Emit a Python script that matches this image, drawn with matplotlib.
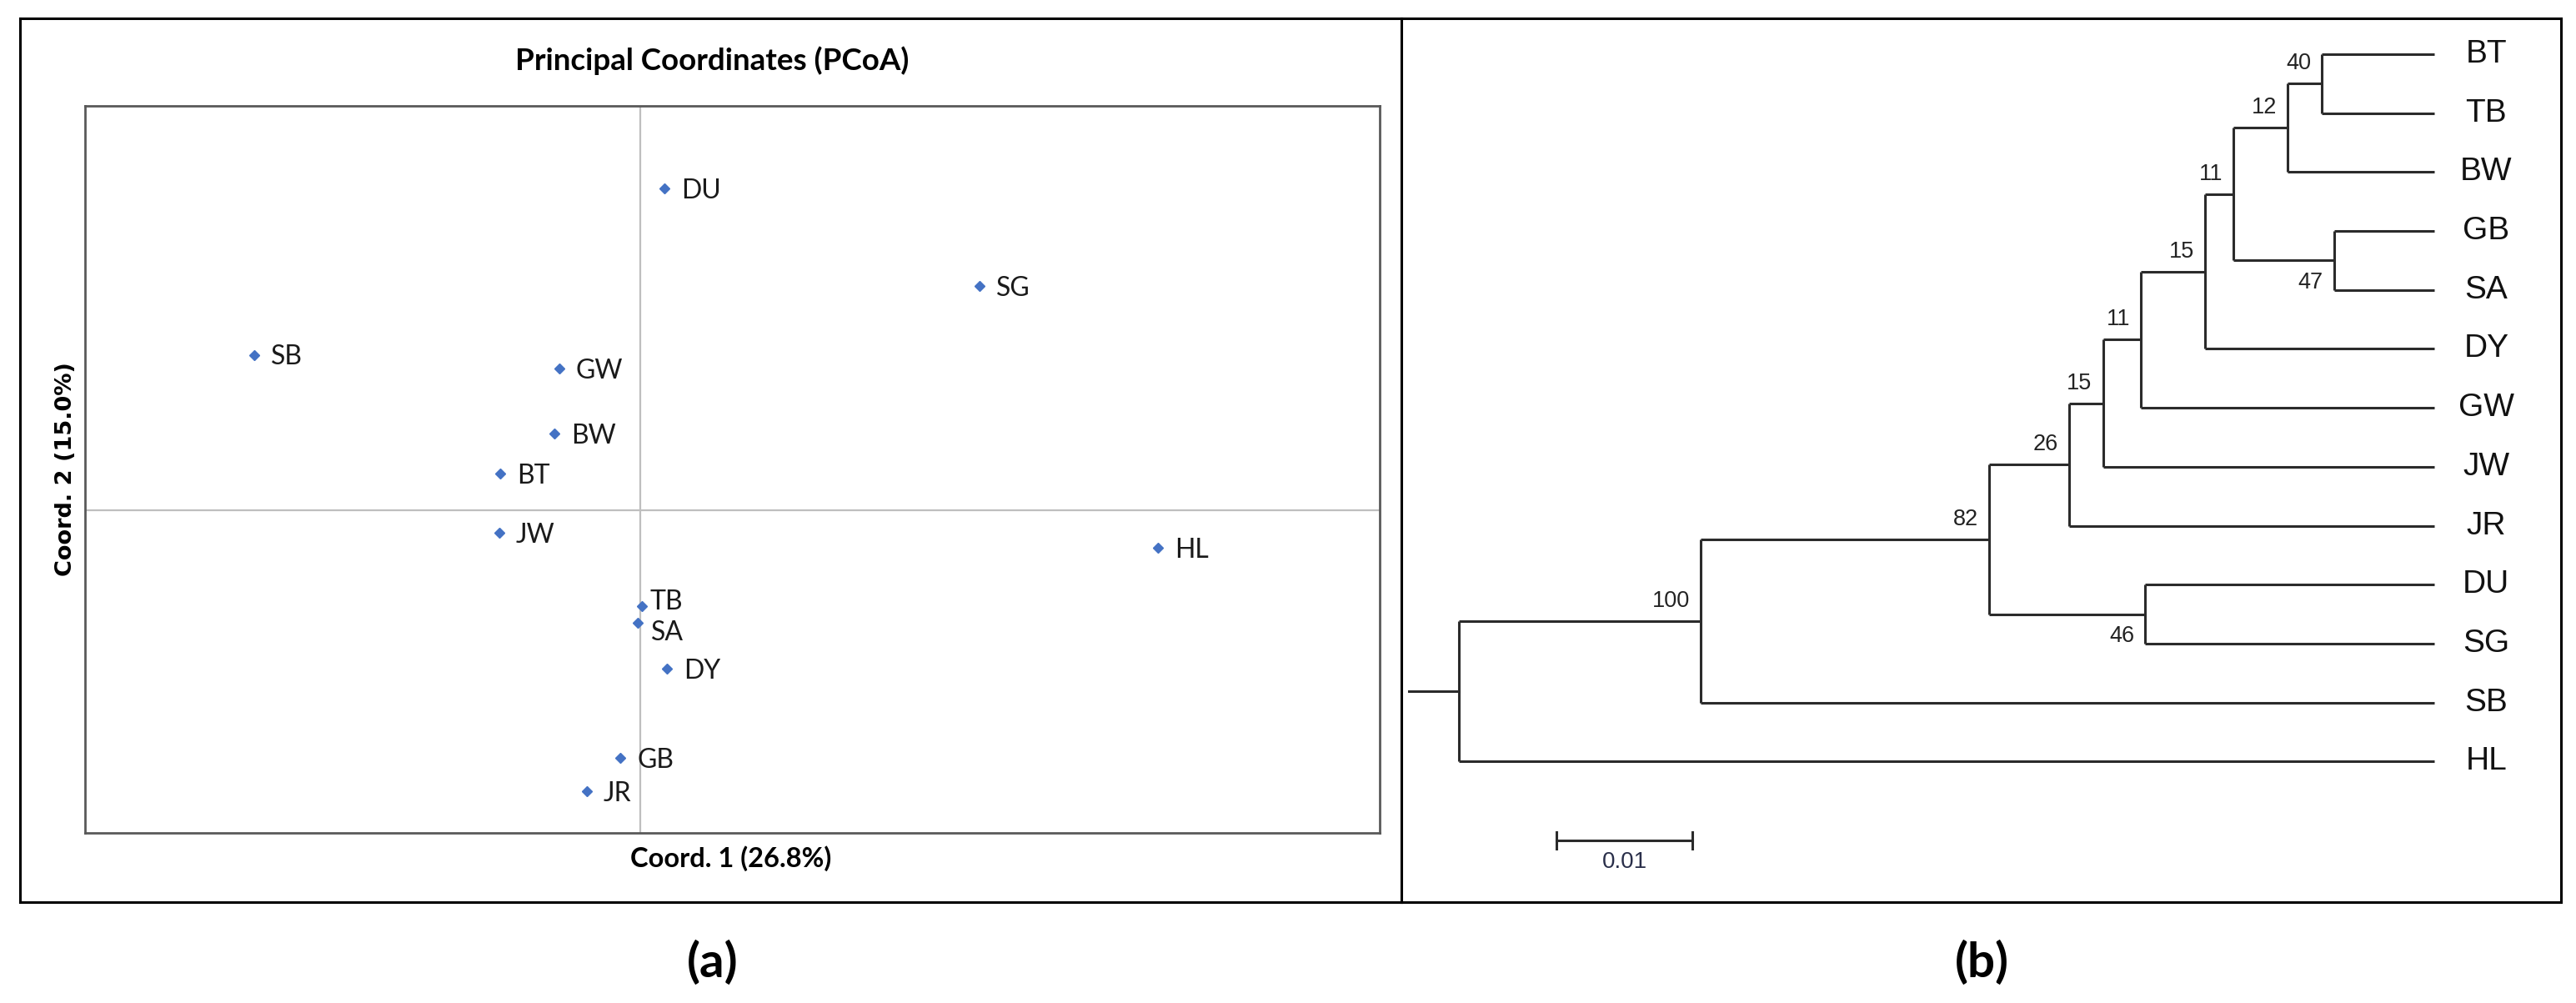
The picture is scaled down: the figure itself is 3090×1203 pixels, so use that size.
import matplotlib
matplotlib.use("agg")
import matplotlib.pyplot as plt

# ---- PCoA data (a) ----
pops = ['DU', 'SG', 'SB', 'GW', 'BW', 'BT', 'JW', 'HL', 'TB', 'SA', 'DY', 'GB', 'JR']
coord1 = [0.019, 0.271, -0.309, -0.065, -0.069, -0.112, -0.113, 0.414, 0.001, -0.002, 0.021, -0.016, -0.043]
coord2 = [0.257, 0.179, 0.124, 0.113, 0.061, 0.029, -0.018, -0.030, -0.077, -0.090, -0.127, -0.198, -0.225]

# ---- UPGMA tree data (b) ----
leaves = ['BT', 'TB', 'BW', 'GB', 'SA', 'DY', 'GW', 'JW', 'JR', 'DU', 'SG', 'SB', 'HL']
node_names = ['n40', 'n47', 'n12', 'n11a', 'n15a', 'n11b', 'n15b', 'n26', 'n46', 'n82', 'n100', 'root']
node_children = [('BT', 'TB'), ('GB', 'SA'), ('n40', 'BW'), ('n12', 'n47'), ('n11a', 'DY'),
                 ('n15a', 'GW'), ('n11b', 'JW'), ('n15b', 'JR'), ('DU', 'SG'), ('n26', 'n46'),
                 ('n82', 'SB'), ('n100', 'HL')]
node_heights = [0.0083, 0.0074, 0.0108, 0.0148, 0.0169, 0.0216, 0.0244, 0.0269, 0.0213, 0.0328, 0.0540, 0.0718]
bootstrap = [40, 47, 12, 11, 15, 11, 15, 26, 46, 82, 100, None]
scale_len = 0.01

W, H = 3090, 1203
def rect(x0, y0, x1, y1):
    return [x0 / W, 1 - y1 / H, (x1 - x0) / W, (y1 - y0) / H]

fig = plt.figure(figsize=(W / 100, H / 100), dpi=100)
fig.patch.set_facecolor('white')

# outer frame of panel (a)
frame = fig.add_axes(rect(24, 22, 1681, 1082))
frame.set_xticks([]); frame.set_yticks([])
frame.patch.set_alpha(0)
for s in frame.spines.values():
    s.set_linewidth(2.2); s.set_color('black')

# PCoA plot
ax = fig.add_axes(rect(102, 127, 1655, 999))
ax.set_xlim(-0.444, 0.591)
ax.set_ylim(-0.258, 0.323)
ax.set_xticks([]); ax.set_yticks([])
for s in ax.spines.values():
    s.set_linewidth(2.0); s.set_color('#595959')
ax.axhline(0, color='#bfbfbf', lw=1.6, zorder=1)
ax.axvline(0, color='#bfbfbf', lw=1.6, zorder=1)
ax.plot(coord1, coord2, 'D', color='#4472C4', markersize=6, zorder=3)

nudge = {'TB': (7, 4), 'SA': (11.5, -8.5)}
for name, x, y in zip(pops, coord1, coord2):
    dx, dy = nudge.get(name, (14.5, -2))
    ax.annotate(name, (x, y), xytext=(dx, dy), textcoords='offset points',
                ha='left', va='center', fontsize=23, family='Lato', color='#1a1a1a')

fig.text(854 / W, 1 - 73 / H, 'Principal Coordinates (PCoA)', ha='center', va='center',
         fontsize=26.5, fontweight='bold', family='Lato')
fig.text(877 / W, 1 - 1030 / H, 'Coord. 1 (26.8%)', ha='center', va='center',
         fontsize=23.5, fontweight='bold', family='Lato')
fig.text(79 / W, 1 - 563 / H, 'Coord. 2 (15.0%)', ha='center', va='center', rotation=90,
         fontsize=19.5, fontweight='bold', family='DejaVu Sans')

# ---- tree panel ----
tx = fig.add_axes(rect(1681, 22, 3072, 1082))
tx.set_xlim(-69 / 16300, 1322 / 16300)
tx.set_ylim(14.385, -0.608)
tx.set_xticks([]); tx.set_yticks([])
for s in tx.spines.values():
    s.set_linewidth(2.2); s.set_color('black')

root_h = node_heights[-1]
xpos, ypos = {}, {}
for i, leaf in enumerate(leaves):
    xpos[leaf] = root_h
    ypos[leaf] = i
for name, kids, h in zip(node_names, node_children, node_heights):
    xpos[name] = root_h - h
    ypos[name] = (ypos[kids[0]] + ypos[kids[1]]) / 2

lc = '#2b2b2b'
lw = 2.2
parent_of = {}
for name, kids in zip(node_names, node_children):
    a, b = kids
    tx.plot([xpos[name], xpos[name]], [ypos[a], ypos[b]], color=lc, lw=lw, solid_capstyle='butt')
    for k in kids:
        tx.plot([xpos[name], xpos[k]], [ypos[k], ypos[k]], color=lc, lw=lw, solid_capstyle='butt')
        parent_of[k] = (name, k == a)
# root stub
tx.plot([-0.0037, 0], [ypos['root'], ypos['root']], color=lc, lw=lw)

for leaf in leaves:
    tx.text(xpos[leaf] + 0.0038, ypos[leaf], leaf, ha='center', va='center',
            fontsize=28, family='Liberation Sans', color='#111111')

for name, bs in zip(node_names, bootstrap):
    if bs is None:
        continue
    upper = parent_of[name][1]
    dy = -0.34 if upper else 0.37
    tx.text(xpos[name] - 0.0008, ypos[name] + dy, str(bs), ha='right', va='center',
            fontsize=19.5, family='Liberation Sans', color='#222222')

# scale bar
sx0 = (1867 - 1750) / 16300
sy = 13.34
tx.plot([sx0, sx0 + scale_len], [sy, sy], color=lc, lw=lw)
tx.plot([sx0, sx0], [sy - 0.14, sy + 0.14], color=lc, lw=lw)
tx.plot([sx0 + scale_len, sx0 + scale_len], [sy - 0.14, sy + 0.14], color=lc, lw=lw)
tx.text(sx0 + scale_len / 2, 13.71, '0.01', ha='center', va='center', fontsize=20,
        family='Liberation Sans', color='#2a2f4a')

fig.text(855 / W, 1 - 1155 / H, '(a)', ha='center', va='center', fontsize=42,
         fontweight='bold', family='Lato')
fig.text(2377 / W, 1 - 1155 / H, '(b)', ha='center', va='center', fontsize=42,
         fontweight='bold', family='Lato')

plt.savefig('out.png', dpi=100)
